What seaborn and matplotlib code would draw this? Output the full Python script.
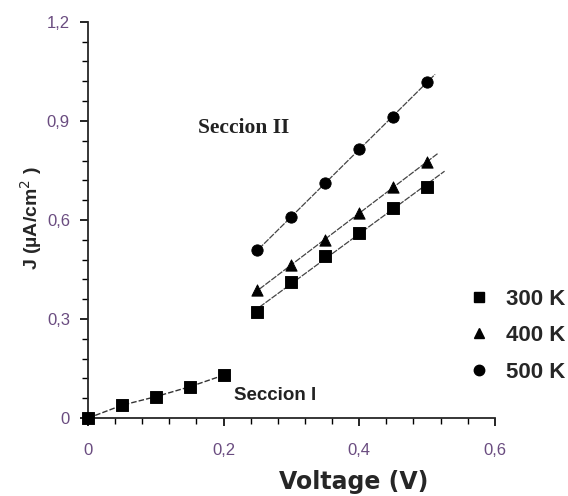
import numpy as np
import pandas as pd
import matplotlib
matplotlib.use("Agg")
import matplotlib.pyplot as plt
import seaborn as sns
from matplotlib.ticker import MultipleLocator, FuncFormatter
from matplotlib.lines import Line2D

sns.set_style("ticks")
plt.rcParams['font.family'] = ['Liberation Sans', 'DejaVu Sans']

# Section I (300 K only)
v1 = [0.0, 0.05, 0.10, 0.15, 0.20]
j1_300 = [0.0, 0.039, 0.065, 0.095, 0.13]

# Section II
v2 = [0.25, 0.30, 0.35, 0.40, 0.45, 0.50]
j2_300 = [0.321, 0.412, 0.491, 0.561, 0.636, 0.70]
j2_400 = [0.388, 0.464, 0.539, 0.621, 0.70, 0.776]
j2_500 = [0.509, 0.609, 0.712, 0.815, 0.912, 1.018]

series = ["300 K", "400 K", "500 K"]
markers = {"300 K": "s", "400 K": "^", "500 K": "o"}
fit_end = {"300 K": 0.526, "400 K": 0.516, "500 K": 0.512}

rows = []
for v, j in zip(v1, j1_300):
    rows.append(("300 K", "I", v, j))
for name, js in zip(series, [j2_300, j2_400, j2_500]):
    for v, j in zip(v2, js):
        rows.append((name, "II", v, j))
df = pd.DataFrame(rows, columns=["T", "sec", "V", "J"])

fig = plt.figure(figsize=(5.68, 4.96), dpi=100)
ax = fig.add_axes([0.155, 0.157, 0.716, 0.799])

# linear fits for section II
for name, js in zip(series, [j2_300, j2_400, j2_500]):
    a, b = np.polyfit(v2, js, 1)
    fx = np.array([0.244, fit_end[name]])
    sns.lineplot(x=fx, y=a * fx + b, ax=ax, color="#444444", lw=0.9,
                 ls=(0, (5, 1)), zorder=2)

# section I line
sns.lineplot(data=df[df.sec == "I"], x="V", y="J", ax=ax, color="#333333",
             lw=1.0, ls=(0, (4, 1.5)), zorder=2)

for name in series:
    sub = df[df["T"] == name]
    sns.scatterplot(data=sub, x="V", y="J", ax=ax, marker=markers[name],
                    color="black", edgecolor="black", s=66, zorder=3,
                    legend=False, clip_on=False)

ax.set_xlim(0, 0.6)
ax.set_ylim(0, 1.2)
ax.xaxis.set_major_locator(MultipleLocator(0.2))
ax.xaxis.set_minor_locator(MultipleLocator(0.04))
ax.yaxis.set_major_locator(MultipleLocator(0.3))
ax.yaxis.set_minor_locator(MultipleLocator(0.06))
fmt = FuncFormatter(lambda v, p: "0" if abs(v) < 1e-9 else f"{v:.1f}".replace(".", ","))
ax.xaxis.set_major_formatter(fmt)
ax.yaxis.set_major_formatter(fmt)
ax.tick_params(which="major", length=6, width=1.2, colors="black",
               labelcolor="#6a4c80", labelsize=12)
ax.tick_params(axis="x", which="major", pad=12)
ax.tick_params(axis="y", which="major", pad=7)
ax.tick_params(which="minor", length=4, width=1.0, colors="black")
for s in ["top", "right"]:
    ax.spines[s].set_visible(False)
for s in ["left", "bottom"]:
    ax.spines[s].set_linewidth(1.3)

ax.set_xlabel("Voltage (V)", fontsize=17, fontweight="bold",
              family=["DejaVu Sans"])
ax.xaxis.set_label_coords(0.654, -0.131)
ax.xaxis.label.set_va("top")
ax.set_ylabel("J (µA/cm$^{2}$ )", fontsize=14, fontweight="bold")
ax.yaxis.set_label_coords(-0.14, 0.505)
ax.yaxis.label.set_va("center")

ax.text(0.2295, 0.88, "Seccion II", family=["Liberation Serif", "DejaVu Serif"],
        fontsize=15.5, fontweight="bold", color="#222222", ha="center", va="center")
ax.text(0.2755, 0.07, "Seccion I", family=["Liberation Sans", "DejaVu Sans"],
        fontsize=13.5, fontweight="bold", color="#222222", ha="center", va="center")

handles = [Line2D([], [], ls="", marker=markers[n], color="black", markersize=7.5)
           for n in series]
leg = fig.legend(handles, series, loc="upper left", bbox_to_anchor=(0.825, 0.418),
                 frameon=False, handlelength=0.95, handletextpad=0.75,
                 labelspacing=0.7, borderpad=0, borderaxespad=0,
                 prop={"weight": "bold", "size": 16,
                       "family": ["Liberation Sans", "DejaVu Sans"]})

fig.savefig("out.png", dpi=100)
